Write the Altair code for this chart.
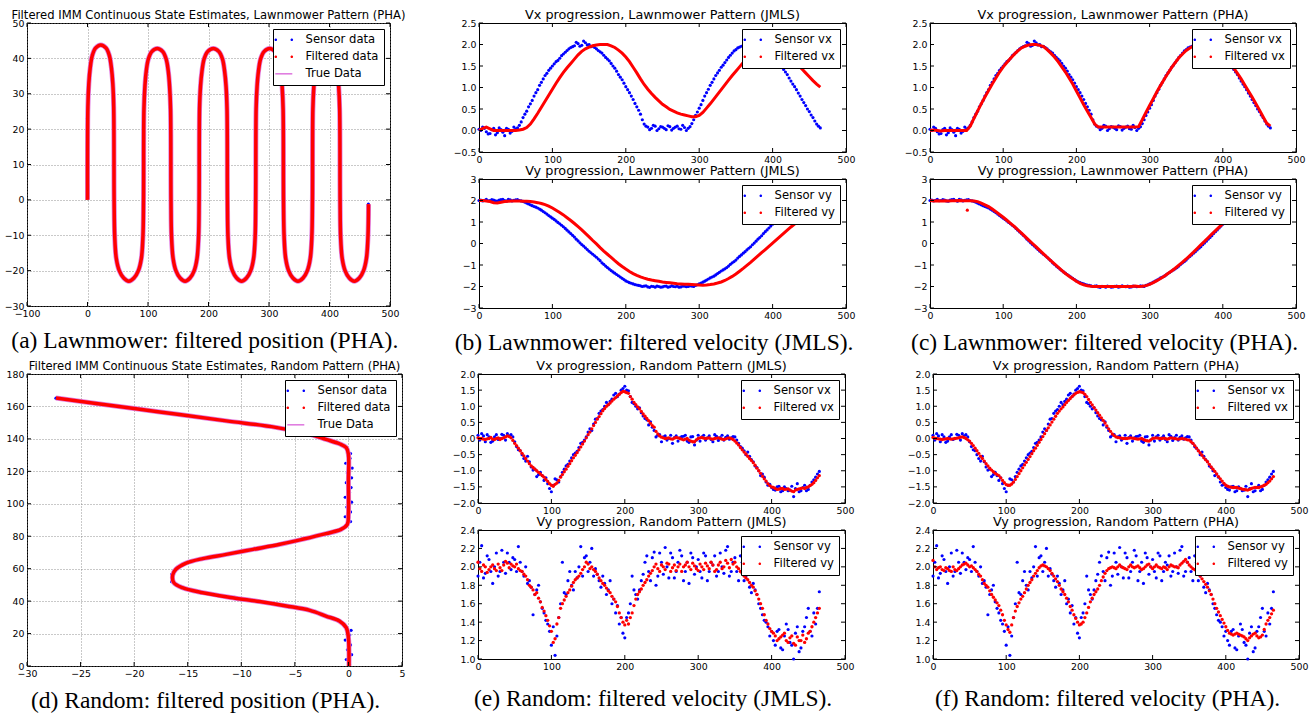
import altair as alt
import pandas as pd

# ---------------------------------------------------------------- data
# sample index grids of the velocity series (every 5th step, and the steps in between)
T = list(range(0, 466, 5))
T2 = [t + 2.5 for t in T[:-1]]

# Lawnmower pattern, velocities
LM_SENSOR_VX = [0.03, 0.08, -0.03, -0.07, 0.05, -0.05, 0.02, -0.12, 0.03, -0.02,
                0.04, 0.12, 0.30, 0.45, 0.62, 0.80, 0.95, 1.12, 1.28, 1.40,
                1.50, 1.60, 1.68, 1.78, 1.86, 1.93, 1.97, 2.02, 1.98, 2.04,
                2.00, 1.96, 1.90, 1.83, 1.75, 1.66, 1.56, 1.45, 1.30, 1.18,
                1.02, 0.88, 0.72, 0.55, 0.38, 0.15, 0.08, 0.05, 0.10, 0.04,
                0.08, 0.02, 0.09, 0.05, 0.10, 0.03, 0.07, 0.05, 0.16, 0.35,
                0.52, 0.70, 0.88, 1.05, 1.20, 1.34, 1.47, 1.58, 1.70, 1.80,
                1.88, 1.94, 1.98, 2.01, 2.00, 1.98, 1.95, 1.90, 1.83, 1.76,
                1.68, 1.62, 1.52, 1.42, 1.30, 1.15, 1.02, 0.87, 0.72, 0.58,
                0.44, 0.30, 0.15, 0.06]
LM_SENSOR_VX2 = [0.00, 0.05, -0.08, 0.02, -0.10, 0.06, -0.04, 0.05, -0.06, 0.08,
                 0.06, 0.20, 0.38, 0.55, 0.70, 0.88, 1.05, 1.20, 1.33, 1.45,
                 1.55, 1.63, 1.74, 1.82, 1.90, 1.95, 2.05, 1.96, 2.08, 1.99,
                 1.95, 1.93, 1.86, 1.80, 1.70, 1.62, 1.50, 1.38, 1.24, 1.10,
                 0.95, 0.80, 0.63, 0.47, 0.25, 0.10, 0.02, 0.12, 0.00, 0.09,
                 0.05, 0.11, 0.01, 0.08, 0.04, 0.12, 0.00, 0.09, 0.25, 0.43,
                 0.60, 0.80, 0.96, 1.12, 1.28, 1.40, 1.52, 1.64, 1.75, 1.85,
                 1.92, 1.96, 2.02, 1.99, 2.02, 1.96, 1.93, 1.86, 1.80, 1.72,
                 1.66, 1.56, 1.47, 1.36, 1.22, 1.08, 0.95, 0.80, 0.65, 0.50,
                 0.36, 0.22, 0.10]
LM_JMLS_VX = [0.00, 0.05, 0.08, 0.04, 0.00, 0.00, 0.00, 0.00, 0.00, 0.00,
              0.00, 0.01, 0.03, 0.07, 0.15, 0.27, 0.40, 0.54, 0.68, 0.82,
              0.96, 1.10, 1.23, 1.35, 1.46, 1.56, 1.66, 1.76, 1.84, 1.90,
              1.94, 1.97, 1.99, 2.00, 2.00, 2.00, 1.97, 1.93, 1.87, 1.80,
              1.71, 1.60, 1.47, 1.34, 1.20, 1.07, 0.96, 0.86, 0.77, 0.69,
              0.61, 0.55, 0.49, 0.45, 0.41, 0.38, 0.36, 0.34, 0.32, 0.32,
              0.35, 0.42, 0.52, 0.62, 0.73, 0.84, 0.95, 1.06, 1.17, 1.28,
              1.38, 1.48, 1.58, 1.68, 1.77, 1.85, 1.91, 1.96, 1.99, 2.00,
              1.99, 1.96, 1.91, 1.84, 1.76, 1.68, 1.60, 1.52, 1.43, 1.34,
              1.25, 1.16, 1.08, 1.01]
LM_PHA_VX = [0.00, 0.01, 0.00, -0.01, 0.00, 0.00, 0.00, 0.00, 0.00, 0.00,
             0.00, 0.10, 0.28, 0.45, 0.62, 0.78, 0.93, 1.08, 1.22, 1.36,
             1.48, 1.58, 1.68, 1.77, 1.85, 1.92, 1.96, 1.99, 2.00, 2.00,
             1.98, 1.95, 1.88, 1.80, 1.71, 1.60, 1.48, 1.36, 1.22, 1.08,
             0.92, 0.76, 0.60, 0.45, 0.30, 0.15, 0.08, 0.08, 0.08, 0.08,
             0.08, 0.08, 0.08, 0.08, 0.08, 0.08, 0.08, 0.09, 0.25, 0.42,
             0.58, 0.74, 0.90, 1.05, 1.19, 1.33, 1.46, 1.58, 1.69, 1.78,
             1.86, 1.92, 1.96, 1.99, 2.00, 1.99, 1.96, 1.91, 1.85, 1.79,
             1.72, 1.65, 1.56, 1.45, 1.33, 1.20, 1.06, 0.92, 0.78, 0.63,
             0.48, 0.32, 0.17, 0.10]
LM_SENSOR_VY = [2.00, 1.98, 2.05, 2.00, 2.02, 1.97, 2.04, 2.00, 2.06, 1.98,
                2.03, 2.00, 1.96, 1.88, 1.80, 1.72, 1.65, 1.55, 1.43, 1.30,
                1.18, 1.05, 0.92, 0.78, 0.62, 0.46, 0.30, 0.12, -0.05, -0.20,
                -0.36, -0.50, -0.64, -0.80, -0.97, -1.12, -1.26, -1.38, -1.50, -1.62,
                -1.74, -1.82, -1.88, -1.93, -1.97, -1.98, -2.02, -1.99, -2.03, -2.00,
                -2.02, -1.98, -2.01, -2.00, -1.98, -2.02, -1.99, -2.00, -1.98, -1.95,
                -1.88, -1.80, -1.70, -1.60, -1.52, -1.40, -1.28, -1.18, -1.05, -0.90,
                -0.77, -0.60, -0.45, -0.30, -0.15, 0.02, 0.20, 0.36, 0.55, 0.72,
                0.90, 1.05, 1.20, 1.35, 1.48, 1.60, 1.70, 1.78, 1.85, 1.90,
                1.94, 1.96, 1.98, 2.00]
LM_SENSOR_VY2 = [2.02, 2.01, 1.99, 2.04, 1.98, 2.02, 2.05, 1.97, 2.03, 2.01,
                 2.04, 1.98, 1.92, 1.84, 1.76, 1.69, 1.60, 1.49, 1.37, 1.24,
                 1.12, 0.98, 0.85, 0.70, 0.54, 0.38, 0.20, 0.03, -0.12, -0.28,
                 -0.43, -0.57, -0.72, -0.90, -1.05, -1.19, -1.32, -1.44, -1.56, -1.68,
                 -1.78, -1.85, -1.91, -1.95, -2.00, -1.97, -2.04, -2.00, -1.98, -2.03,
                 -1.99, -2.03, -1.97, -2.01, -2.03, -1.98, -2.01, -1.97, -2.00, -1.92,
                 -1.84, -1.75, -1.65, -1.56, -1.46, -1.34, -1.23, -1.12, -0.97, -0.84,
                 -0.68, -0.53, -0.38, -0.22, -0.06, 0.11, 0.28, 0.46, 0.63, 0.81,
                 0.98, 1.12, 1.28, 1.42, 1.54, 1.65, 1.74, 1.82, 1.88, 1.92,
                 1.95, 1.97, 1.99]
LM_JMLS_VY = [2.00, 2.00, 1.98, 1.95, 1.90, 1.88, 1.92, 1.95, 1.97, 1.98,
              1.98, 1.98, 1.97, 1.96, 1.95, 1.93, 1.90, 1.86, 1.81, 1.74,
              1.65, 1.55, 1.44, 1.33, 1.20, 1.07, 0.93, 0.78, 0.63, 0.47,
              0.31, 0.14, -0.02, -0.19, -0.35, -0.50, -0.65, -0.80, -0.94, -1.07,
              -1.19, -1.30, -1.40, -1.48, -1.55, -1.61, -1.66, -1.70, -1.73, -1.76,
              -1.79, -1.81, -1.83, -1.85, -1.87, -1.88, -1.89, -1.90, -1.91, -1.92,
              -1.93, -1.94, -1.93, -1.91, -1.88, -1.84, -1.79, -1.72, -1.63, -1.53,
              -1.42, -1.29, -1.16, -1.02, -0.88, -0.73, -0.58, -0.43, -0.28, -0.13,
              0.02, 0.17, 0.32, 0.47, 0.62, 0.77, 0.90, 1.03, 1.15, 1.26,
              1.36, 1.45, 1.53, 1.60]
LM_PHA_VY = [2.00, 1.98, 1.99, 1.98, 1.99, 1.98, 1.99, 1.99, 2.00, 1.99,
             1.99, 1.99, 1.98, 1.95, 1.88, 1.80, 1.72, 1.60, 1.48, 1.35,
             1.22, 1.08, 0.94, 0.80, 0.64, 0.48, 0.32, 0.16, 0.00, -0.16,
             -0.32, -0.48, -0.64, -0.80, -0.95, -1.10, -1.25, -1.40, -1.52, -1.64,
             -1.76, -1.85, -1.92, -1.97, -1.99, -2.00, -2.00, -2.00, -2.00, -2.00,
             -2.00, -2.00, -2.00, -2.00, -2.00, -2.00, -1.98, -2.00, -1.99, -1.96,
             -1.90, -1.82, -1.73, -1.63, -1.52, -1.40, -1.28, -1.15, -1.01, -0.87,
             -0.72, -0.56, -0.40, -0.23, -0.06, 0.10, 0.27, 0.44, 0.60, 0.76,
             0.92, 1.06, 1.20, 1.34, 1.47, 1.58, 1.68, 1.76, 1.83, 1.88,
             1.92, 1.95, 1.97, 1.98]
# isolated filtered outlier in (c) Vy
LM_PHA_VY_OUT_T = [51]
LM_PHA_VY_OUT_V = [1.55]

# Random pattern, velocities
RD_SENSOR_VX = [0.10, 0.15, -0.10, 0.05, -0.08, 0.12, 0.00, 0.10, 0.15, 0.12,
                -0.10, -0.35, -0.50, -0.70, -0.72, -0.98, -1.18, -1.05, -1.30, -1.40,
                -1.65, -1.25, -1.35, -1.05, -0.85, -0.70, -0.50, -0.40, -0.15, -0.05,
                0.20, 0.25, 0.60, 0.78, 0.90, 1.12, 1.15, 1.35, 1.30, 1.50,
                1.62, 1.48, 1.12, 1.00, 0.95, 0.70, 0.58, 0.52, 0.25, 0.10,
                -0.10, 0.08, 0.00, -0.15, 0.08, 0.02, 0.07, -0.08, 0.05, -0.20,
                0.10, 0.05, -0.05, 0.08, -0.10, 0.07, 0.03, -0.05, 0.08, 0.02,
                0.05, -0.15, -0.30, -0.50, -0.55, -0.72, -0.90, -1.15, -1.20, -1.45,
                -1.52, -1.60, -1.48, -1.62, -1.55, -1.60, -1.80, -1.40, -1.62, -1.45,
                -1.58, -1.35, -1.20, -1.02]
RD_SENSOR_VX2 = [-0.05, 0.08, 0.12, -0.12, 0.05, -0.03, 0.13, -0.05, 0.08, 0.05,
                 -0.25, -0.38, -0.62, -0.55, -0.88, -0.95, -1.12, -1.15, -1.22, -1.55,
                 -1.45, -1.28, -1.18, -0.95, -0.80, -0.60, -0.45, -0.28, -0.12, 0.05,
                 0.30, 0.45, 0.62, 0.85, 1.00, 1.05, 1.22, 1.40, 1.38, 1.55,
                 1.50, 1.30, 1.08, 0.92, 0.80, 0.62, 0.42, 0.35, 0.05, 0.12,
                 0.05, -0.05, 0.10, 0.03, -0.08, 0.06, 0.10, -0.12, 0.06, -0.05,
                 -0.08, 0.10, 0.02, -0.03, 0.12, -0.06, 0.10, 0.04, -0.02, 0.06,
                 -0.05, -0.25, -0.38, -0.42, -0.65, -0.85, -1.00, -1.10, -1.35, -1.42,
                 -1.58, -1.50, -1.65, -1.50, -1.62, -1.48, -1.55, -1.65, -1.52, -1.62,
                 -1.45, -1.28, -1.10]
RD_JMLS_VX = [0.02, 0.00, -0.03, 0.00, -0.02, 0.00, -0.03, 0.02, 0.08, 0.02,
              -0.15, -0.30, -0.46, -0.62, -0.78, -0.90, -1.00, -1.10, -1.20, -1.33,
              -1.45, -1.42, -1.30, -1.12, -0.95, -0.78, -0.60, -0.44, -0.26, -0.08,
              0.12, 0.30, 0.50, 0.68, 0.86, 1.00, 1.10, 1.22, 1.32, 1.42,
              1.45, 1.40, 1.22, 1.05, 0.92, 0.76, 0.62, 0.47, 0.35, 0.14,
              0.04, 0.00, 0.02, -0.02, 0.03, 0.00, -0.04, 0.00, -0.08, -0.10,
              0.00, 0.03, 0.00, 0.02, -0.02, 0.01, 0.00, -0.03, 0.01, 0.00,
              -0.08, -0.20, -0.35, -0.48, -0.62, -0.75, -0.92, -1.08, -1.25, -1.40,
              -1.50, -1.55, -1.57, -1.55, -1.57, -1.60, -1.65, -1.58, -1.55, -1.55,
              -1.50, -1.42, -1.30, -1.15]
RD_JMLS_VX2 = [0.00, -0.02, -0.01, 0.03, -0.03, 0.02, 0.00, 0.05, 0.06, -0.06,
               -0.22, -0.38, -0.54, -0.70, -0.85, -0.95, -1.05, -1.15, -1.27, -1.40,
               -1.48, -1.38, -1.20, -1.03, -0.86, -0.69, -0.52, -0.35, -0.17, 0.02,
               0.20, 0.40, 0.60, 0.77, 0.93, 1.05, 1.16, 1.27, 1.37, 1.46,
               1.42, 1.30, 1.12, 0.98, 0.84, 0.69, 0.55, 0.40, 0.22, 0.08,
               0.02, 0.01, -0.01, 0.01, 0.02, -0.02, -0.02, -0.05, -0.10, -0.04,
               0.02, 0.01, 0.01, -0.01, 0.00, 0.02, -0.02, -0.01, 0.02, -0.03,
               -0.14, -0.28, -0.42, -0.55, -0.68, -0.83, -1.00, -1.17, -1.32, -1.46,
               -1.52, -1.58, -1.55, -1.58, -1.56, -1.63, -1.60, -1.56, -1.53, -1.52,
               -1.46, -1.37, -1.22]
RD_PHA_VX = [0.03, 0.00, -0.02, -0.02, 0.00, -0.02, 0.00, 0.02, 0.05, 0.00,
             -0.08, -0.22, -0.38, -0.55, -0.70, -0.85, -0.98, -1.08, -1.15, -1.30,
             -1.43, -1.45, -1.35, -1.18, -1.00, -0.82, -0.65, -0.47, -0.30, -0.12,
             0.06, 0.25, 0.42, 0.60, 0.78, 0.92, 1.05, 1.18, 1.30, 1.40,
             1.45, 1.42, 1.30, 1.12, 0.96, 0.80, 0.64, 0.48, 0.30, 0.14,
             0.05, 0.02, 0.00, 0.00, 0.02, 0.00, -0.02, 0.00, -0.06, -0.08,
             0.00, 0.02, 0.00, 0.01, -0.02, 0.02, 0.00, -0.02, 0.00, -0.02,
             -0.05, -0.15, -0.30, -0.45, -0.60, -0.72, -0.88, -1.02, -1.18, -1.32,
             -1.45, -1.50, -1.52, -1.52, -1.55, -1.58, -1.60, -1.55, -1.52, -1.52,
             -1.48, -1.42, -1.32, -1.18]
RD_PHA_VX2 = [0.01, -0.01, -0.03, -0.01, -0.01, -0.01, 0.01, 0.04, 0.03, -0.04,
              -0.15, -0.30, -0.46, -0.62, -0.78, -0.92, -1.03, -1.12, -1.22, -1.37,
              -1.45, -1.41, -1.27, -1.09, -0.91, -0.74, -0.56, -0.38, -0.21, -0.03,
              0.15, 0.33, 0.51, 0.69, 0.85, 0.98, 1.12, 1.24, 1.35, 1.43,
              1.44, 1.37, 1.21, 1.04, 0.88, 0.72, 0.56, 0.39, 0.22, 0.09,
              0.03, 0.01, 0.00, 0.01, 0.01, -0.01, -0.01, -0.03, -0.07, -0.04,
              0.01, 0.01, 0.00, 0.00, 0.00, 0.01, -0.01, -0.01, -0.01, -0.04,
              -0.10, -0.22, -0.38, -0.52, -0.66, -0.80, -0.95, -1.10, -1.25, -1.39,
              -1.48, -1.51, -1.52, -1.54, -1.57, -1.59, -1.58, -1.53, -1.52, -1.50,
              -1.45, -1.37, -1.25]
RD_SENSOR_VY = [1.90, 2.23, 1.93, 2.08, 1.82, 2.15, 1.95, 2.05, 2.15, 1.97,
                2.08, 2.22, 1.95, 2.00, 1.85, 1.48, 1.75, 1.62, 1.50, 1.38,
                1.15, 1.04, 1.45, 2.05, 1.70, 1.95, 1.75, 1.88, 2.22, 2.10,
                1.95, 2.20, 1.98, 1.85, 1.90, 1.70, 1.85, 1.65, 1.58, 1.45,
                1.23, 1.50, 1.90, 1.70, 1.75, 1.92, 2.12, 1.85, 2.16, 1.90,
                2.05, 2.21, 1.88, 2.10, 1.95, 2.18, 1.85, 2.05, 2.15, 1.92,
                2.08, 1.88, 2.12, 1.95, 2.02, 1.90, 2.15, 1.93, 2.22, 1.95,
                2.10, 1.85, 2.05, 1.90, 1.78, 1.82, 1.70, 1.55, 1.42, 1.35,
                1.30, 1.15, 1.32, 1.10, 1.38, 1.18, 1.00, 1.35, 1.12, 1.35,
                1.55, 1.25, 1.38, 1.73]
RD_SENSOR_VY2 = [2.05, 1.88, 2.12, 1.95, 2.00, 1.90, 2.18, 1.93, 2.05, 2.10,
                 1.95, 2.05, 1.90, 1.82, 1.78, 1.70, 1.80, 1.55, 1.42, 1.30,
                 1.35, 1.25, 1.60, 1.72, 1.85, 1.80, 1.95, 2.00, 1.90, 2.12,
                 2.05, 1.90, 1.92, 1.78, 1.82, 1.75, 1.60, 1.50, 1.38, 1.28,
                 1.45, 1.60, 1.75, 1.65, 1.85, 2.05, 1.95, 2.10, 1.80, 2.15,
                 1.92, 2.00, 2.15, 1.88, 2.05, 2.12, 1.95, 1.82, 2.10, 2.00,
                 1.95, 2.15, 1.85, 2.05, 2.12, 1.95, 2.00, 2.18, 1.90, 2.05,
                 1.95, 2.12, 1.85, 1.95, 1.72, 1.75, 1.60, 1.48, 1.40, 1.25,
                 1.20, 1.30, 1.12, 1.25, 1.32, 1.15, 1.28, 1.08, 1.30, 1.45,
                 1.30, 1.50, 1.55]
RD_JMLS_VY = [2.05, 1.95, 2.00, 1.97, 2.02, 1.96, 1.99, 2.02, 2.04, 2.03,
              2.00, 1.98, 1.95, 1.90, 1.80, 1.75, 1.72, 1.62, 1.52, 1.42,
              1.30, 1.22, 1.45, 1.60, 1.68, 1.75, 1.83, 1.88, 1.93, 2.00,
              2.03, 2.00, 1.95, 1.88, 1.82, 1.77, 1.72, 1.65, 1.57, 1.45,
              1.37, 1.38, 1.50, 1.65, 1.73, 1.80, 1.86, 1.93, 2.00, 1.98,
              2.02, 1.97, 2.03, 1.99, 1.96, 2.03, 2.00, 2.05, 1.97, 2.01,
              1.96, 2.00, 2.04, 1.98, 2.02, 1.97, 2.05, 2.00, 2.04, 2.08,
              2.05, 1.98, 1.93, 1.88, 1.83, 1.78, 1.70, 1.60, 1.48, 1.38,
              1.30, 1.25, 1.22, 1.26, 1.20, 1.23, 1.17, 1.24, 1.20, 1.18,
              1.28, 1.35, 1.45, 1.55]
RD_JMLS_VY2 = [1.98, 2.02, 1.94, 2.00, 1.98, 2.03, 1.96, 2.06, 1.99, 2.01,
               2.03, 1.96, 1.92, 1.86, 1.78, 1.70, 1.66, 1.56, 1.47, 1.36,
               1.18, 1.38, 1.55, 1.64, 1.72, 1.79, 1.86, 1.90, 1.97, 2.05,
               1.98, 1.97, 1.92, 1.85, 1.80, 1.74, 1.68, 1.62, 1.50, 1.40,
               1.42, 1.45, 1.58, 1.70, 1.76, 1.83, 1.90, 1.96, 2.03, 1.95,
               2.00, 2.04, 1.95, 2.02, 2.00, 1.95, 2.02, 2.00, 2.04, 1.98,
               2.03, 1.97, 2.01, 2.05, 1.95, 2.02, 1.98, 2.07, 1.99, 2.03,
               2.00, 1.95, 1.90, 1.86, 1.80, 1.74, 1.65, 1.55, 1.42, 1.33,
               1.28, 1.20, 1.24, 1.28, 1.18, 1.25, 1.15, 1.20, 1.26, 1.22,
               1.30, 1.40, 1.50]
RD_PHA_VY = [2.07, 1.97, 2.00, 1.96, 1.98, 1.95, 1.97, 1.98, 2.02, 2.04,
             2.00, 1.99, 1.95, 1.90, 1.82, 1.78, 1.70, 1.64, 1.58, 1.48,
             1.37, 1.29, 1.45, 1.57, 1.65, 1.72, 1.80, 1.86, 1.93, 1.99,
             2.02, 2.00, 1.96, 1.90, 1.84, 1.76, 1.70, 1.62, 1.53, 1.44,
             1.37, 1.40, 1.50, 1.62, 1.70, 1.76, 1.85, 1.93, 1.98, 2.00,
             1.98, 2.02, 1.99, 1.97, 2.02, 1.99, 2.01, 1.97, 2.00, 2.03,
             1.98, 2.02, 1.99, 2.00, 1.97, 2.02, 2.00, 1.99, 2.04, 2.08,
             2.02, 1.98, 1.95, 1.90, 1.84, 1.78, 1.70, 1.60, 1.51, 1.43,
             1.35, 1.28, 1.26, 1.28, 1.26, 1.24, 1.20, 1.25, 1.28, 1.23,
             1.26, 1.38, 1.45, 1.53]
RD_PHA_VY2 = [2.00, 1.99, 1.97, 1.99, 1.96, 2.00, 1.96, 2.00, 2.03, 2.02,
              2.01, 1.97, 1.92, 1.86, 1.80, 1.74, 1.67, 1.61, 1.53, 1.42,
              1.32, 1.37, 1.52, 1.61, 1.68, 1.76, 1.83, 1.90, 1.96, 2.01,
              2.01, 1.98, 1.93, 1.87, 1.80, 1.73, 1.66, 1.57, 1.48, 1.40,
              1.38, 1.45, 1.56, 1.66, 1.73, 1.80, 1.89, 1.96, 1.99, 1.99,
              2.00, 2.00, 1.98, 2.00, 2.00, 2.00, 1.99, 1.98, 2.02, 2.00,
              2.00, 2.00, 1.98, 1.99, 2.00, 2.01, 2.00, 2.02, 2.06, 2.05,
              2.00, 1.97, 1.92, 1.87, 1.81, 1.74, 1.65, 1.55, 1.47, 1.39,
              1.31, 1.27, 1.27, 1.27, 1.25, 1.22, 1.23, 1.27, 1.25, 1.24,
              1.32, 1.42, 1.49]

# Lawnmower position path (x, y)
LM_PATH_X = [0, 0.66, 2.2, 4.4, 7.7, 13.2, 22, 30.8, 36.3, 39.6, 41.8, 43.3, 44,
             45.0, 47.6, 52.5, 59.8, 68.3, 76.8, 84.1, 89.0, 91.6, 92.6,
             93.3, 94.9, 97.1, 100.6, 106.2, 115.3, 124.4, 130.0, 133.5, 135.7, 137.3, 138,
             138.9, 141.5, 146.1, 153.1, 161.3, 169.4, 176.4, 181.0, 183.6, 184.5,
             185.2, 186.8, 189.2, 192.7, 198.5, 207.9, 217.3, 223.1, 226.6, 229.0, 230.6, 231.3,
             232.2, 234.8, 239.5, 246.5, 254.7, 262.8, 269.8, 274.5, 277.1, 278,
             278.7, 280.3, 282.6, 286.1, 291.8, 301, 310.2, 315.9, 319.4, 321.7, 323.3, 324,
             325.0, 327.6, 332.4, 339.5, 347.9, 356.3, 363.4, 368.2, 370.8, 371.8,
             372.5, 374.1, 376.4, 379.8, 385.5, 394.7, 403.8, 409.5, 412.9, 415.2, 416.8, 417.5,
             418.4, 421.0, 425.7, 432.7, 441, 449.3, 456.3, 461.0, 463.6, 464.5]
LM_PATH_Y = [0, 26.3, 32.9, 37.2, 40.7, 42.9, 43.8, 42.9, 40.7, 37.2, 32.9, 26.3, 0,
             -10.4, -16.6, -20.0, -22.1, -23, -22.1, -20.0, -16.6, -10.4, 0,
             25.7, 32.1, 36.4, 39.8, 41.9, 42.8, 41.9, 39.8, 36.4, 32.1, 25.7, 0,
             -10.4, -16.6, -20.0, -22.1, -23, -22.1, -20.0, -16.6, -10.4, 0,
             25.7, 32.1, 36.4, 39.8, 41.9, 42.8, 41.9, 39.8, 36.4, 32.1, 25.7, 0,
             -10.4, -16.6, -20.0, -22.1, -23, -22.1, -20.0, -16.6, -10.4, 0,
             25.7, 32.1, 36.4, 39.8, 41.9, 42.8, 41.9, 39.8, 36.4, 32.1, 25.7, 0,
             -10.4, -16.6, -20.0, -22.1, -23, -22.1, -20.0, -16.6, -10.4, 0,
             25.6, 32.0, 36.2, 39.6, 41.7, 42.6, 41.7, 39.6, 36.2, 32.0, 25.6, 0,
             -10.4, -16.6, -20.0, -22.1, -23, -22.1, -20.0, -16.6, -10.4, -1.2]
LM_SENS_X = [0.4, -0.4, 0.5, -0.3, 0.6, -0.2, 0.8, 464.3]
LM_SENS_Y = [2, 6, 10, 14, 19, 23, 30, -1.2]

# Random position path
RD_PATH_X = [0.05, 0.05, 0.0, -0.2, -0.84, -2.1, -3.6, -5.8, -8.3, -10.8, -13.6, -15.5,
             -16.3, -16.4, -16.1, -15.2, -13.6, -11.4, -8.9, -6.4, -4.3, -2.1, -0.7,
             -0.1, 0.0, 0.0, 0.0, -0.2, -0.84, -2.1, -3.6, -6.8, -11.4, -17.6, -23.9, -27.3]
RD_PATH_Y = [0, 10, 17.5, 23.6, 27.7, 30.8, 34.3, 37.0, 39.7, 42.1, 45.2, 48.3,
             51.4, 56.1, 59.6, 63.3, 66.2, 68.8, 71.9, 75.0, 78.1, 81.6, 84.2,
             87.3, 93.5, 114, 130.5, 134.6, 137.0, 139.7, 142.8, 147.1, 151.1, 156.6, 162.1, 165.2]
RD_SENS_X = [0.1, -0.2, 0.3, -0.1, 0.2, -0.3, 0.1, 0.25,
             -0.9, -2.2, -3.8, -5.9, -8.4, -10.6, -13.7, -15.6, -16.5, -16.5, -16.0,
             -15.0, -13.4, -11.2, -8.7, -6.2, -4.1, -1.9, -0.6,
             0.2, -0.3, 0.2, -0.15, 0.3, -0.3, 0.1, 0.25, -0.2, 0.3, -0.1, 0.35, -0.25, 0.15, 0.2,
             -0.6, -1.9, -3.4, -6.6, -9.0, -11.2, -14.0, -17.4, -20.5, -23.7, -27.3]
RD_SENS_Y = [1, 4, 7, 10, 13, 16, 19, 22,
             27.5, 30.9, 34.6, 37.2, 39.9, 42.3, 45.0, 48.6, 52.0, 56.5, 60.0,
             63.6, 66.5, 69.2, 72.2, 75.4, 78.4, 82.0, 84.7,
             89, 92, 95, 98, 101, 104, 107, 110, 113, 116, 119, 122, 125, 128, 131,
             136.5, 139.4, 142.5, 147.2, 149.0, 151.3, 153.4, 156.4, 159.1, 161.9, 165.1]

for arr in [LM_SENSOR_VX, LM_JMLS_VX, LM_PHA_VX, LM_SENSOR_VY, LM_JMLS_VY, LM_PHA_VY,
            RD_SENSOR_VX, RD_JMLS_VX, RD_PHA_VX, RD_SENSOR_VY, RD_JMLS_VY, RD_PHA_VY]:
    assert len(arr) == len(T), len(arr)
for arr in [LM_SENSOR_VX2, LM_SENSOR_VY2, RD_SENSOR_VX2, RD_JMLS_VX2, RD_PHA_VX2,
            RD_SENSOR_VY2, RD_JMLS_VY2, RD_PHA_VY2]:
    assert len(arr) == len(T2), len(arr)
assert len(LM_PATH_X) == len(LM_PATH_Y), (len(LM_PATH_X), len(LM_PATH_Y))
assert len(RD_PATH_X) == len(RD_PATH_Y)
assert len(RD_SENS_X) == len(RD_SENS_Y)

# ---------------------------------------------------------------- style
FONT = "DejaVu Sans"
SERIF = "Liberation Serif"
BLUE, RED, VIOLET = "#0000ff", "#ff0000", "#e07ee0"
TICK_FS, POS_TITLE_FS, VEL_TITLE_FS, LEG_FS, CAP_FS = 9.4, 11.6, 12.8, 11.6, 23.5

DOTS = ("M -1.86 0 A 0.26 0.26 0 1 0 -1.34 0 A 0.26 0.26 0 1 0 -1.86 0 Z "
        "M 1.34 0 A 0.26 0.26 0 1 0 1.86 0 A 0.26 0.26 0 1 0 1.34 0 Z")
BAR = "M -1.7 -0.16 L 1.7 -0.16 L 1.7 0.16 L -1.7 0.16 Z"
IND = dict(color="independent", shape="independent")


def mk_axis(values, fmt, grid):
    kw = dict(values=values, title=None, ticks=False, domain=False, grid=grid,
              labelFont=FONT, labelFontSize=TICK_FS, labelColor="black", labelPadding=3,
              labelFlush=False, labelOverlap=False, format=fmt)
    if grid:
        kw.update(gridColor="#777777", gridDash=[1, 2], gridWidth=0.8, gridOpacity=1)
    return alt.Axis(**kw)


def tick_layers(xf, yf, X, Y, xticks, yticks, w, h, L=4):
    xd = pd.DataFrame({xf: xticks})
    yd = pd.DataFrame({yf: yticks})
    r = dict(color="black", strokeWidth=1)
    return [
        alt.Chart(xd).mark_rule(**r).encode(x=X, y=alt.value(0), y2=alt.value(L)),
        alt.Chart(xd).mark_rule(**r).encode(x=X, y=alt.value(h), y2=alt.value(h - L)),
        alt.Chart(yd).mark_rule(**r).encode(y=Y, x=alt.value(0), x2=alt.value(L)),
        alt.Chart(yd).mark_rule(**r).encode(y=Y, x=alt.value(w), x2=alt.value(w - L)),
    ]


def legend_layer(labels, colors, shapes):
    leg = alt.Legend(title=None, orient="top-right", offset=6, padding=5,
                     fillColor="white", strokeColor="black", cornerRadius=0,
                     labelFont=FONT, labelFontSize=LEG_FS, labelColor="black",
                     symbolSize=100, symbolStrokeWidth=0, symbolOpacity=1,
                     rowPadding=4, labelOffset=16)
    df = pd.DataFrame({"k": labels})
    return alt.Chart(df).transform_filter("false").mark_point(filled=True, opacity=1, size=100).encode(
        color=alt.Color("k:N", scale=alt.Scale(domain=labels, range=colors), legend=leg),
        shape=alt.Shape("k:N", scale=alt.Scale(domain=labels, range=shapes), legend=leg),
    )


def panel_title(text, fs):
    return alt.TitleParams(text=text, font=FONT, fontSize=fs, fontWeight="normal",
                           color="black", offset=-4, anchor="middle", frame="group")


def caption(text, offset=11):
    return alt.TitleParams(text=text, orient="bottom", font=SERIF, fontSize=CAP_FS,
                           fontWeight="normal", color="black", offset=offset, anchor="middle")


def vel_panel(title, sensor, sensor2, filt, filt2, ydom, yticks, yfmt, labels, w, h,
              out_t=None, out_v=None):
    xticks = [0, 100, 200, 300, 400, 500]
    X = alt.X("t:Q", scale=alt.Scale(domain=[0, 500], nice=False, zero=False),
              axis=mk_axis(xticks, "d", False))
    Y = alt.Y("v:Q", scale=alt.Scale(domain=ydom, nice=False, zero=False),
              axis=mk_axis(yticks, yfmt, False))
    sdf = pd.DataFrame({"t": T + T2, "v": sensor + sensor2})
    layers = [alt.Chart(sdf).mark_circle(color=BLUE, size=10, opacity=1).encode(X, Y)]
    if filt2 is None:
        fdf = pd.DataFrame({"t": T, "v": filt})
        layers.append(alt.Chart(fdf).mark_line(color=RED, strokeWidth=3).encode(X, Y))
    else:
        fdf = pd.DataFrame({"t": T + T2, "v": filt + filt2})
        layers.append(alt.Chart(fdf).mark_circle(color=RED, size=11, opacity=1).encode(X, Y))
    if out_t:
        odf = pd.DataFrame({"t": out_t, "v": out_v})
        layers.append(alt.Chart(odf).mark_circle(color=RED, size=10, opacity=1).encode(X, Y))
    layers += tick_layers("t", "v", X, Y, xticks, yticks, w, h)
    layers.append(legend_layer(labels, [BLUE, RED], [DOTS, DOTS]))
    return alt.layer(*layers).properties(width=w, height=h, title=panel_title(title, VEL_TITLE_FS))


def pos_panel(title, px, py, sx, sy, xdom, xticks, ydom, yticks, w, h):
    X = alt.X("x:Q", scale=alt.Scale(domain=xdom, nice=False, zero=False),
              axis=mk_axis(xticks, "d", True))
    Y = alt.Y("y:Q", scale=alt.Scale(domain=ydom, nice=False, zero=False),
              axis=mk_axis(yticks, "d", True))
    pdf = pd.DataFrame({"x": px, "y": py, "i": list(range(len(px)))})
    sdf = pd.DataFrame({"x": sx, "y": sy})
    layers = [
        alt.Chart(sdf).mark_circle(color=BLUE, size=10, opacity=1).encode(X, Y),
        alt.Chart(pdf).mark_line(color=VIOLET, strokeWidth=5, interpolate="catmull-rom").encode(X, Y, order="i:Q"),
        alt.Chart(pdf).mark_line(color=RED, strokeWidth=3.5, interpolate="catmull-rom").encode(X, Y, order="i:Q"),
    ]
    layers += tick_layers("x", "y", X, Y, xticks, yticks, w, h)
    layers.append(legend_layer(["Sensor data", "Filtered data", "True Data"],
                               [BLUE, RED, VIOLET], [DOTS, DOTS, BAR]))
    return alt.layer(*layers).properties(width=w, height=h, title=panel_title(title, POS_TITLE_FS))


# ---------------------------------------------------------------- panels
VX_TICKS = [-0.5, 0.0, 0.5, 1.0, 1.5, 2.0, 2.5]
VY_TICKS = [-3, -2, -1, 0, 1, 2, 3]
RVX_TICKS = [-2.0, -1.5, -1.0, -0.5, 0.0, 0.5, 1.0, 1.5, 2.0]
RVY_TICKS = [1.0, 1.2, 1.4, 1.6, 1.8, 2.0, 2.2, 2.4]

pa = pos_panel("Filtered IMM Continuous State Estimates, Lawnmower Pattern (PHA)",
               LM_PATH_X, LM_PATH_Y, LM_SENS_X, LM_SENS_Y,
               [-100, 500], [-100, 0, 100, 200, 300, 400, 500],
               [-30, 50], [-30, -20, -10, 0, 10, 20, 30, 40, 50], 363, 283)
pd_ = pos_panel("Filtered IMM Continuous State Estimates, Random Pattern (PHA)",
                RD_PATH_X, RD_PATH_Y, RD_SENS_X, RD_SENS_Y,
                [-30, 5], [-30, -25, -20, -15, -10, -5, 0, 5],
                [0, 180], [0, 20, 40, 60, 80, 100, 120, 140, 160, 180], 375, 292)

bx = vel_panel("Vx progression, Lawnmower Pattern (JMLS)", LM_SENSOR_VX, LM_SENSOR_VX2, LM_JMLS_VX, None,
               [-0.5, 2.5], VX_TICKS, ".1f", ["Sensor vx", "Filtered vx"], 367, 129)
by = vel_panel("Vy progression, Lawnmower Pattern (JMLS)", LM_SENSOR_VY, LM_SENSOR_VY2, LM_JMLS_VY, None,
               [-3, 3], VY_TICKS, "d", ["Sensor vy", "Filtered vy"], 367, 129)
cx = vel_panel("Vx progression, Lawnmower Pattern (PHA)", LM_SENSOR_VX, LM_SENSOR_VX2, LM_PHA_VX, None,
               [-0.5, 2.5], VX_TICKS, ".1f", ["Sensor vx", "Filtered vx"], 366, 129)
cy = vel_panel("Vy progression, Lawnmower Pattern (PHA)", LM_SENSOR_VY, LM_SENSOR_VY2, LM_PHA_VY, None,
               [-3, 3], VY_TICKS, "d", ["Sensor vy", "Filtered vy"], 366, 129,
               LM_PHA_VY_OUT_T, LM_PHA_VY_OUT_V)
ex = vel_panel("Vx progression, Random Pattern (JMLS)", RD_SENSOR_VX, RD_SENSOR_VX2, RD_JMLS_VX, RD_JMLS_VX2,
               [-2, 2], RVX_TICKS, ".1f", ["Sensor vx", "Filtered vx"], 367, 129)
ey = vel_panel("Vy progression, Random Pattern (JMLS)", RD_SENSOR_VY, RD_SENSOR_VY2, RD_JMLS_VY, RD_JMLS_VY2,
               [1.0, 2.4], RVY_TICKS, ".1f", ["Sensor vy", "Filtered vy"], 367, 129)
fx = vel_panel("Vx progression, Random Pattern (PHA)", RD_SENSOR_VX, RD_SENSOR_VX2, RD_PHA_VX, RD_PHA_VX2,
               [-2, 2], RVX_TICKS, ".1f", ["Sensor vx", "Filtered vx"], 366, 129)
fy = vel_panel("Vy progression, Random Pattern (PHA)", RD_SENSOR_VY, RD_SENSOR_VY2, RD_PHA_VY, RD_PHA_VY2,
               [1.0, 2.4], RVY_TICKS, ".1f", ["Sensor vy", "Filtered vy"], 366, 129)

A = alt.vconcat(pa, title=caption("(a) Lawnmower: filtered position (PHA).")).resolve_scale(**IND)
B = alt.vconcat(bx, by, spacing=0, title=caption("(b) Lawnmower: filtered velocity (JMLS).")).resolve_scale(**IND)
C = alt.vconcat(cx, cy, spacing=0, title=caption("(c) Lawnmower: filtered velocity (PHA).")).resolve_scale(**IND)
D = alt.vconcat(pd_, title=caption("(d) Random: filtered position (PHA).")).resolve_scale(**IND)
E = alt.vconcat(ex, ey, spacing=0, title=caption("(e) Random: filtered velocity (JMLS).", 16)).resolve_scale(**IND)
F = alt.vconcat(fx, fy, spacing=0, title=caption("(f) Random: filtered velocity (PHA).", 16)).resolve_scale(**IND)

row1 = alt.hconcat(A, alt.hconcat(B, C, spacing=47).resolve_scale(**IND), spacing=46).resolve_scale(**IND)
row2 = alt.hconcat(D, alt.hconcat(E, F, spacing=51).resolve_scale(**IND), spacing=45).resolve_scale(**IND)

chart = alt.vconcat(row1, row2, spacing=4).resolve_scale(**IND).properties(
    padding={"left": 3, "top": 8, "right": 0, "bottom": 0},
    background="white",
).configure_view(stroke="black", strokeWidth=1)

chart.save("out.html", embed_options={"renderer": "svg", "actions": False})
